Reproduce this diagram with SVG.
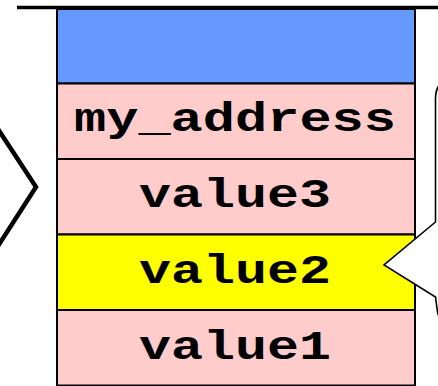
<svg xmlns="http://www.w3.org/2000/svg" width="438" height="386" viewBox="0 0 438 386">
  <style>
    .cell { stroke: #000; stroke-width: 2; }
    .blue { fill: #6699ff; }
    .pink { fill: #ffcccc; }
    .yellow { fill: #ffff00; }
    .label { font-family: "Liberation Mono", "Courier New", monospace; font-weight: bold; font-size: 40px; fill: #000; text-anchor: middle; }
    .outline { fill: none; stroke: #000; stroke-linejoin: miter; }
  </style>

  <!-- stack top boundary -->
  <line x1="17" y1="7.5" x2="438" y2="7.5" stroke="#000" stroke-width="3.5"/>

  <!-- stack cells -->
  <g id="cell-top">
    <rect class="cell blue" x="57" y="9" width="358" height="74.5"/>
  </g>
  <g id="cell-my-address">
    <rect class="cell pink" x="57" y="83.5" width="358" height="75.5"/>
    <text class="label" x="235" y="131" textLength="322" lengthAdjust="spacingAndGlyphs">my_address</text>
  </g>
  <g id="cell-value3">
    <rect class="cell pink" x="57" y="159" width="358" height="75.5"/>
    <text class="label" x="235" y="207" textLength="192" lengthAdjust="spacingAndGlyphs">value3</text>
  </g>
  <g id="cell-value2">
    <rect class="cell yellow" x="57" y="234.5" width="358" height="75.5"/>
    <text class="label" x="235" y="283" textLength="192" lengthAdjust="spacingAndGlyphs">value2</text>
  </g>
  <g id="cell-value1">
    <rect class="cell pink" x="57" y="310" width="358" height="75.5"/>
    <text class="label" x="235" y="359" textLength="192" lengthAdjust="spacingAndGlyphs">value1</text>
  </g>

  <!-- pointer chevron on the left -->
  <g id="left-marker">
    <polyline class="outline" stroke-width="4.5" points="-4,126 36,187 -4,249"/>
  </g>

  <!-- callout bubble on the right -->
  <g id="callout">
    <path d="M 446 82 Q 436 83 435.5 98 L 435.5 222 L 384 265 L 435.5 297 L 437.5 312 Q 438 318 446 320 Z" fill="#fff" stroke="#000" stroke-width="1.6" stroke-linejoin="miter"/>
  </g>
</svg>
